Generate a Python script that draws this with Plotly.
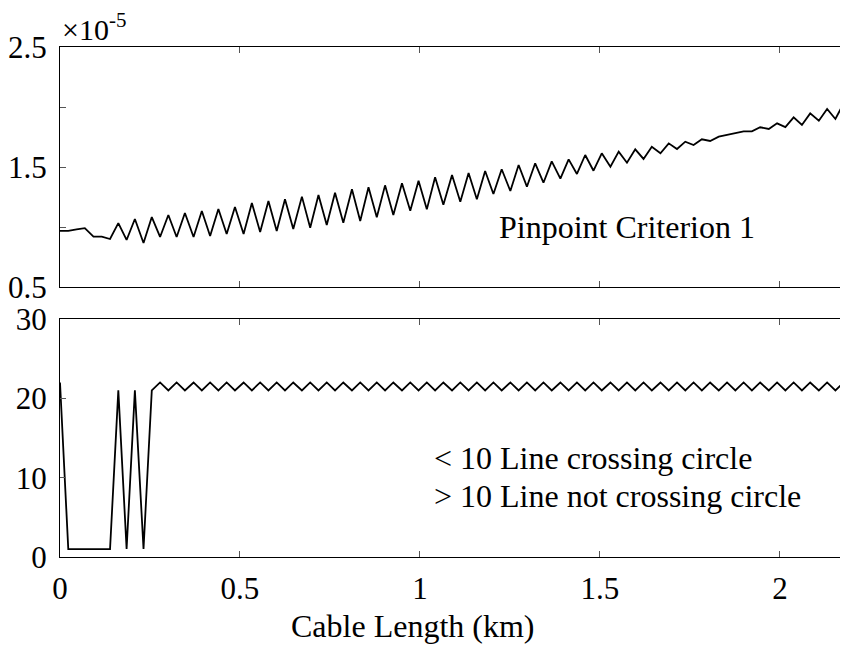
import plotly.graph_objects as go
from plotly.subplots import make_subplots

# cable length (km)
length_km = [
    0, 0.023, 0.046, 0.069, 0.093, 0.116, 0.139, 0.162, 0.185, 0.208,
    0.232, 0.255, 0.278, 0.301, 0.324, 0.347, 0.371, 0.394, 0.417, 0.440,
    0.463, 0.486, 0.510, 0.533, 0.556, 0.579, 0.602, 0.625, 0.648, 0.672,
    0.695, 0.718, 0.741, 0.764, 0.787, 0.811, 0.834, 0.857, 0.880, 0.903,
    0.926, 0.950, 0.973, 0.996, 1.019, 1.042, 1.065, 1.089, 1.112, 1.135,
    1.158, 1.181, 1.204, 1.227, 1.251, 1.274, 1.297, 1.320, 1.343, 1.366,
    1.390, 1.413, 1.436, 1.459, 1.482, 1.505, 1.529, 1.552, 1.575, 1.598,
    1.621, 1.644, 1.668, 1.691, 1.714, 1.737, 1.760, 1.783, 1.806, 1.830,
    1.853, 1.876, 1.899, 1.922, 1.945, 1.969, 1.992, 2.015, 2.038, 2.061,
    2.084, 2.108, 2.131, 2.154, 2.177, 2.200,
]

# pinpoint criterion 1 (x1e-5)
criterion1 = [
    0.967, 0.967, 0.98, 0.99, 0.92, 0.92, 0.90, 1.033, 0.892, 1.067,
    0.867, 1.083, 0.917, 1.10, 0.917, 1.117, 0.917, 1.133, 0.925, 1.15,
    0.942, 1.167, 0.942, 1.20, 0.958, 1.217, 0.967, 1.231, 0.983, 1.253,
    0.994, 1.267, 1.017, 1.286, 1.036, 1.314, 1.05, 1.331, 1.081, 1.347,
    1.10, 1.364, 1.136, 1.386, 1.147, 1.414, 1.186, 1.433, 1.211, 1.45,
    1.231, 1.467, 1.275, 1.481, 1.30, 1.517, 1.336, 1.531, 1.369, 1.547,
    1.403, 1.564, 1.442, 1.60, 1.469, 1.614, 1.503, 1.628, 1.536, 1.647,
    1.567, 1.669, 1.614, 1.697, 1.65, 1.711, 1.683, 1.731, 1.717, 1.753,
    1.767, 1.783, 1.797, 1.797, 1.831, 1.817, 1.864, 1.833, 1.914, 1.85,
    1.947, 1.886, 1.983, 1.90, 2.031, 1.933,
]

# line crossing circle count
crossing = [
    22, 1, 1, 1, 1, 1, 1, 21, 1, 21,
    1, 21, 22, 21, 22, 21, 22, 21, 22, 21,
    22, 21, 22, 21, 22, 21, 22, 21, 22, 21,
    22, 21, 22, 21, 22, 21, 22, 21, 22, 21,
    22, 21, 22, 21, 22, 21, 22, 21, 22, 21,
    22, 21, 22, 21, 22, 21, 22, 21, 22, 21,
    22, 21, 22, 21, 22, 21, 22, 21, 22, 21,
    22, 21, 22, 21, 22, 21, 22, 21, 22, 21,
    22, 21, 22, 21, 22, 21, 22, 21, 22, 21,
    22, 21, 22, 21, 22, 21,
]

x_ticks = [0, 0.5, 1, 1.5, 2]
x_labels = ["0", "0.5", "1", "1.5", "2"]
top_ticks = [0.5, 1.5, 2.5]
top_minor = [1, 2]
bot_ticks = [0, 10, 20, 30]

FONT = "Liberation Serif"
W, H = 848, 648
OFF = 8  # page body margin


def py(p):
    # page pixel row -> paper y
    return 1 - (p - OFF) / H


fig = make_subplots(rows=2, cols=1, shared_xaxes=False)
fig.add_trace(go.Scatter(x=length_km, y=criterion1, mode="lines",
                         line=dict(color="black", width=1.8)), row=1, col=1)
fig.add_trace(go.Scatter(x=length_km, y=crossing, mode="lines",
                         line=dict(color="black", width=1.8)), row=2, col=1)

axis_style = dict(showline=True, linecolor="black", linewidth=1.3, mirror="ticks",
                  ticks="inside", ticklen=6, tickcolor="#555", showgrid=False,
                  zeroline=False, automargin=False,
                  tickfont=dict(family=FONT, size=31, color="black"))

fig.update_xaxes(range=[0, 2.189], tickvals=x_ticks, **axis_style)
fig.update_xaxes(showticklabels=False, row=1, col=1)
fig.update_xaxes(ticktext=x_labels, ticklabelstandoff=4, row=2, col=1)
fig.update_yaxes(ticklabelstandoff=6, **axis_style)
fig.update_yaxes(range=[0.5, 2.5], tickvals=top_ticks,
                 minor=dict(tickvals=top_minor, ticks="inside", ticklen=6,
                            tickcolor="#555", showgrid=False),
                 row=1, col=1)
fig.update_yaxes(range=[0, 30], tickvals=bot_ticks, row=2, col=1)

fig.layout.yaxis.domain = [py(287), py(47)]
fig.layout.yaxis2.domain = [py(557), py(319)]
fig.layout.xaxis.domain = [0, 1]
fig.layout.xaxis2.domain = [0, 1]

txt = dict(family=FONT, size=32, color="black")
fig.add_annotation(x=1.214, y=1.0, xref="x", yref="y", text="Pinpoint Criterion 1",
                   showarrow=False, xanchor="left", yanchor="middle", font=txt)
fig.add_annotation(x=1.033, y=12.5, xref="x2", yref="y2", text="< 10 Line crossing circle",
                   showarrow=False, xanchor="left", yanchor="middle", font=txt)
fig.add_annotation(x=1.033, y=7.7, xref="x2", yref="y2", text="> 10 Line not crossing circle",
                   showarrow=False, xanchor="left", yanchor="middle", font=txt)
fig.add_annotation(x=0, y=py(27), xref="paper", yref="paper",
                   text="×10<sup>-5</sup>", showarrow=False, xanchor="left",
                   yanchor="middle", font=dict(family=FONT, size=30, color="black"))
fig.add_annotation(x=0.98, y=py(626), xref="x2", yref="paper",
                   text="Cable Length (km)", showarrow=False, xanchor="center",
                   yanchor="middle", font=txt)

fig.update_layout(width=W, height=H, autosize=False, showlegend=False,
                  margin=dict(l=60 - OFF, r=OFF, t=0, b=0),
                  plot_bgcolor="white", paper_bgcolor="white")

fig.write_html("out.html")
